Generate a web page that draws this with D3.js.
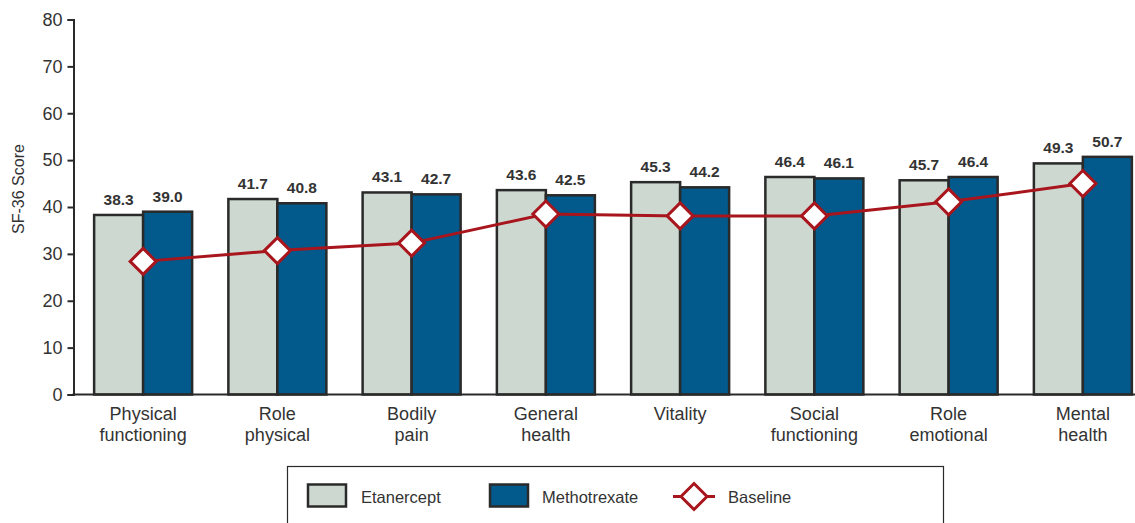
<!DOCTYPE html>
<html>
<head>
<meta charset="utf-8">
<script src="https://cdn.jsdelivr.net/npm/d3@7"></script>
<style>
  html, body { margin: 0; padding: 0; background: #fff; }
  svg { display: block; }
  text { font-family: "Liberation Sans", Arial, Helvetica, sans-serif; fill: #333; }
</style>
</head>
<body>
<svg id="chart" width="1135" height="523"></svg>
<script>
// SF-36 domain scores by treatment, with baseline
const categories = [
  ["Physical", "functioning"],
  ["Role", "physical"],
  ["Bodily", "pain"],
  ["General", "health"],
  ["Vitality"],
  ["Social", "functioning"],
  ["Role", "emotional"],
  ["Mental", "health"]
];
const seriesNames = ["Etanercept", "Methotrexate"];
const etanercept   = [38.3, 41.7, 43.1, 43.6, 45.3, 46.4, 45.7, 49.3];
const methotrexate = [39.0, 40.8, 42.7, 42.5, 44.2, 46.1, 46.4, 50.7];
const baseline     = [28.4, 30.7, 32.3, 38.5, 38.1, 38.1, 41.1, 45.0];
const yTicks = [0, 10, 20, 30, 40, 50, 60, 70, 80];

const colors = { Etanercept: "#cdd9d0", Methotrexate: "#02598c" };
const lineRed = "#a8151c";
const ink = "#2a2a2a";

const svg = d3.select("#chart");
const keys = categories.map(c => c.join(" "));

const x0 = d3.scaleBand().domain(keys).range([76, 1150])
  .paddingInner(0.27).paddingOuter(0.135);
const x1 = d3.scaleBand().domain(seriesNames).range([0, x0.bandwidth()]);
const y = d3.scaleLinear().domain([0, 80]).range([394.5, 19.5]);

// y axis
const yAxis = svg.append("g")
  .attr("transform", "translate(73.5,0)")
  .call(d3.axisLeft(y).tickValues(yTicks).tickSize(6).tickPadding(5));
yAxis.select(".domain").attr("stroke", ink).attr("stroke-width", 2);
yAxis.selectAll(".tick line").attr("stroke", ink).attr("stroke-width", 2);
yAxis.selectAll(".tick text")
  .style("font-size", "18px").style("font-family", "'Liberation Sans', Arial, sans-serif")
  .attr("fill", "#333");

svg.append("text")
  .attr("transform", "translate(24,189) rotate(-90)")
  .attr("text-anchor", "middle")
  .style("font-size", "16px")
  .text("SF-36 Score");

// bars
const rows = keys.map((k, i) => ({ key: k, vals: [etanercept[i], methotrexate[i]] }));
const groups = svg.append("g").selectAll("g").data(rows).join("g")
  .attr("transform", d => `translate(${x0(d.key)},0)`);

groups.selectAll("rect")
  .data(d => seriesNames.map((s, j) => ({ s, v: d.vals[j] })))
  .join("rect")
  .attr("x", d => x1(d.s))
  .attr("y", d => y(d.v))
  .attr("width", x1.bandwidth())
  .attr("height", d => y(0) - y(d.v))
  .attr("fill", d => colors[d.s])
  .attr("stroke", ink)
  .attr("stroke-width", 2.5);

groups.selectAll("text.val")
  .data(d => seriesNames.map((s, j) => ({ s, v: d.vals[j] })))
  .join("text")
  .attr("class", "val")
  .attr("x", d => x1(d.s) + x1.bandwidth() / 2)
  .attr("y", d => y(d.v) - 10)
  .attr("text-anchor", "middle")
  .style("font-size", "15.5px")
  .style("font-weight", "bold")
  .text(d => d.v.toFixed(1));

// x axis line
svg.append("line")
  .attr("x1", 72.5).attr("x2", 1135)
  .attr("y1", y(0)).attr("y2", y(0))
  .attr("stroke", ink).attr("stroke-width", 2);

// category labels
const cx = k => x0(k) + x0.bandwidth() / 2;
const catLabels = svg.append("g").selectAll("text").data(categories).join("text")
  .attr("text-anchor", "middle")
  .style("font-size", "18px");
catLabels.each(function (c, i) {
  const t = d3.select(this);
  c.forEach((line, li) => {
    t.append("tspan").attr("x", cx(keys[i])).attr("y", 420 + li * 21).text(line);
  });
});

// baseline line and diamond markers
const line = d3.line().x((d, i) => cx(keys[i])).y(d => y(d));
svg.append("path")
  .datum(baseline)
  .attr("d", line)
  .attr("fill", "none")
  .attr("stroke", lineRed)
  .attr("stroke-width", 3);

const dPath = "M0,-13L13,0L0,13L-13,0Z";
svg.append("g").selectAll("path").data(baseline).join("path")
  .attr("transform", (d, i) => `translate(${cx(keys[i])},${y(d)})`)
  .attr("d", dPath)
  .attr("fill", "#fff")
  .attr("stroke", lineRed)
  .attr("stroke-width", 3);

// legend
const lg = svg.append("g");
lg.append("rect")
  .attr("x", 287.5).attr("y", 466.5)
  .attr("width", 656).attr("height", 70)
  .attr("fill", "#fff").attr("stroke", ink).attr("stroke-width", 1.2);

const legendItems = [
  { name: "Etanercept", sx: 308, tx: 361 },
  { name: "Methotrexate", sx: 490, tx: 542 }
];
legendItems.forEach(it => {
  lg.append("rect")
    .attr("x", it.sx).attr("y", 484.5)
    .attr("width", 38).attr("height", 22)
    .attr("fill", colors[it.name]).attr("stroke", ink).attr("stroke-width", 2.5);
  lg.append("text")
    .attr("x", it.tx).attr("y", 503)
    .style("font-size", "16.5px")
    .text(it.name);
});
lg.append("line")
  .attr("x1", 673).attr("x2", 715).attr("y1", 496.5).attr("y2", 496.5)
  .attr("stroke", lineRed).attr("stroke-width", 3);
lg.append("path")
  .attr("transform", "translate(694,496.5)")
  .attr("d", dPath)
  .attr("fill", "#fff").attr("stroke", lineRed).attr("stroke-width", 3);
lg.append("text")
  .attr("x", 728).attr("y", 503)
  .style("font-size", "16.5px")
  .text("Baseline");
</script>
</body>
</html>
